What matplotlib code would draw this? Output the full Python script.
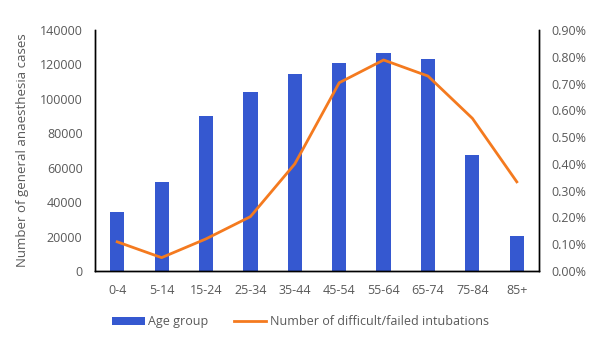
import numpy as np
import matplotlib
matplotlib.use("Agg")
import matplotlib.pyplot as plt
from matplotlib.ticker import FuncFormatter

# ---------------------------------------------------------------------------
# Data
# ---------------------------------------------------------------------------
age_groups = ["0-4", "5-14", "15-24", "25-34", "35-44",
              "45-54", "55-64", "65-74", "75-84", "85+"]
ga_cases = [34300, 51600, 90000, 103800, 114500,
            121000, 126800, 123200, 67200, 20100]
difficult_pct = [0.109, 0.050, 0.120, 0.203, 0.400,
                 0.703, 0.788, 0.728, 0.570, 0.333]

left_ticks = [0, 20000, 40000, 60000, 80000, 100000, 120000, 140000]
right_ticks = [0.0, 0.1, 0.2, 0.3, 0.4, 0.5, 0.6, 0.7, 0.8, 0.9]

BAR_COLOR = "#3558d0"
LINE_COLOR = "#f47a1f"
TEXT_COLOR = "#595959"

plt.rcParams["font.family"] = ["Open Sans", "DejaVu Sans"]

fig = plt.figure(figsize=(5.89, 3.37), dpi=100)
ax = fig.add_axes([0.1613, 0.1958, 0.7538, 0.7152])
ax2 = ax.twinx()

x = np.arange(len(age_groups))
bars = ax.bar(x, ga_cases, width=0.32, color=BAR_COLOR, label="Age group")
line, = ax2.plot(x, difficult_pct, color=LINE_COLOR, lw=2,
                 label="Number of difficult/failed intubations")

ax.set_xlim(-0.5, len(age_groups) - 0.5)
ax.set_ylim(0, 140000)
ax.set_yticks(left_ticks)
ax2.set_ylim(0, 0.9)
ax2.set_yticks(right_ticks)
ax2.yaxis.set_major_formatter(FuncFormatter(lambda v, _: f"{v:.2f}%"))

ax.set_xticks(x)
ax.set_xticklabels(age_groups)
ax.set_ylabel("Number of general anaesthesia cases", color=TEXT_COLOR,
              fontsize=9.5, labelpad=8)

for a in (ax, ax2):
    a.tick_params(length=0, labelsize=9, labelcolor=TEXT_COLOR)
    a.spines["top"].set_visible(False)
    for s in ("left", "right", "bottom"):
        a.spines[s].set_color("black")
        a.spines[s].set_linewidth(1.0)
ax.tick_params(axis="x", pad=9)
ax.tick_params(axis="y", pad=9)
ax2.tick_params(axis="y", pad=9)

fig.legend([bars, line], ["Age group", "Number of difficult/failed intubations"],
           loc="center", bbox_to_anchor=(0.51, 0.045), ncol=2, frameon=False,
           fontsize=9, labelcolor=TEXT_COLOR, handlelength=2.6,
           handletextpad=0.3, columnspacing=2.0)

fig.savefig("out.png", dpi=100)
